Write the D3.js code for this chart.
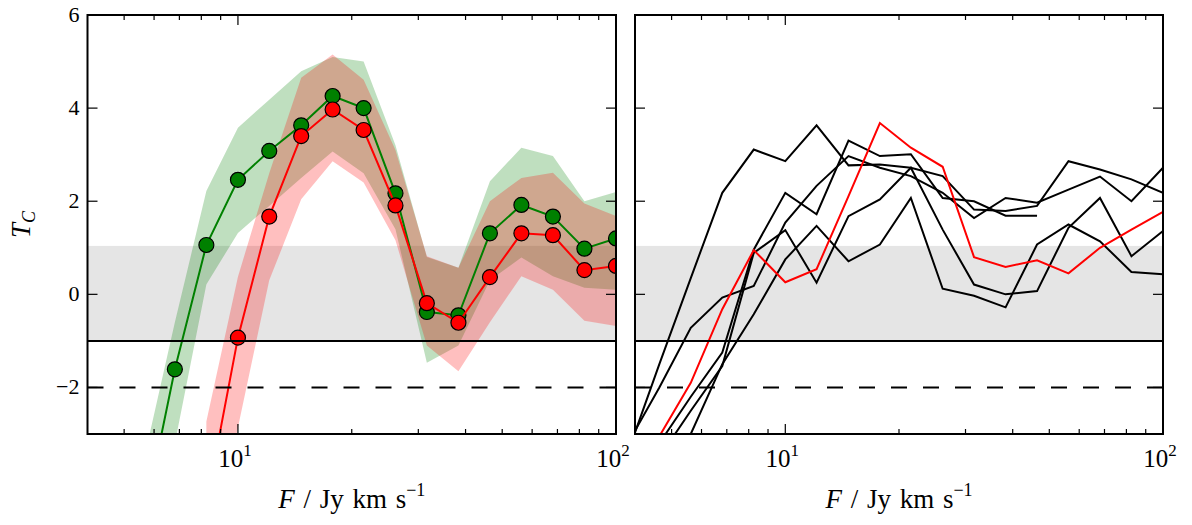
<!DOCTYPE html>
<html>
<head>
<meta charset="utf-8">
<script src="https://cdn.jsdelivr.net/npm/d3@7"></script>
<style>
  html, body { margin: 0; padding: 0; background: #fff; }
  svg { display: block; }
</style>
</head>
<body>
<svg id="chart" width="1192" height="525"></svg>
<script>
// Flux bins (Jy km/s) used by both panels
const fluxBins = [3.83, 4.64, 5.62, 6.81, 8.25, 10.0, 12.1, 14.7, 17.8, 21.5,
                  26.1, 31.6, 38.3, 46.4, 56.2, 68.1, 82.5, 100];

// Left panel: two averaged profiles with their spread
const greenTc = [null, null, -4.9, -1.61, 1.06, 2.46, 3.08, 3.63, 4.26, 4.00,
                 2.17, -0.38, -0.45, 1.31, 1.92, 1.67, 0.98, 1.20];
const greenLo = [null, null, -6.5, -3.2, 0.21, 1.32, 1.90, 2.50, 3.07, 2.60,
                 1.40, -1.47, -1.10, 0.30, 0.79, 0.39, 0.14, 0.10];
const greenHi = [null, null, -3.6, -0.6, 2.22, 3.58, 4.18, 4.79, 5.10, 5.00,
                 3.20, 0.80, 0.57, 2.43, 3.15, 2.97, 2.00, 2.20];

const redTc = [null, null, null, null, -4.5, -0.93, 1.67, 3.40, 3.97, 3.53,
               1.91, -0.19, -0.61, 0.37, 1.31, 1.27, 0.52, 0.61];
const redLo = [null, null, null, null, -6.0, -2.86, 0.30, 2.04, 2.86, 2.40,
               1.16, -1.10, -1.65, -0.60, 0.39, 0.10, -0.57, -0.68];
const redHi = [null, null, null, null, -2.73, 0.38, 2.60, 4.65, 5.15, 4.61,
               3.10, 0.82, 0.57, 2.00, 2.50, 2.61, 1.95, 1.68];

// Right panel: individual profiles
const profilesBlack = [
  [-3.4, -1.5, 0.35, 2.18, 3.11, 2.86, 3.63, 2.77, 2.79, 2.72, 2.54, 1.82, 1.79, 1.90, 2.86, 2.68, 2.47, 2.18],
  [-3.2, -2.0, -0.72, -0.07, 0.18, 1.54, 2.33, 2.97, 2.72, 2.54, 2.18, 1.64, 2.07, 1.97, 2.25, 2.53, 2.00, 2.72],
  [null, -3.2, -2.2, -1.25, 0.96, 2.18, 1.72, 3.30, 2.97, 3.01, 2.07, 2.00, 1.69, 1.69, null, null, null, null],
  [null, -3.5, -2.5, -1.54, 0.89, 1.38, 0.25, 1.68, 2.04, 2.72, 1.39, 0.21, 0.00, 0.07, 1.43, 2.07, 0.82, 1.36],
  [null, null, -3.0, -1.5, -0.43, 0.75, 1.47, 0.71, 1.07, 2.07, 0.12, -0.03, -0.28, 1.07, 1.50, 1.14, 0.48, 0.43]
];
const profileRed = [null, -3.05, -1.9, -0.32, 0.95, 0.26, 0.54, 2.11, 3.68, 3.15,
                    2.74, 0.80, 0.59, 0.73, 0.45, 1.00, 1.39, 1.77];

// Reference levels
const bandLo = -1, bandHi = 1.04, solidLevel = -1, dashLevel = -2;
const yTicks = [-2, 0, 2, 4, 6];
const xMajor = [10, 100];
const xMinor = [5, 6, 7, 8, 9, 20, 30, 40, 50, 60, 70, 80, 90];

const serif = "'Liberation Serif', 'Times New Roman', 'DejaVu Serif', serif";

const svg = d3.select("#chart").attr("font-family", serif);
const plotTop = 15, plotBottom = 434;
const panels = [
  { left: 87.5, right: 616, id: "L", yLabels: true },
  { left: 635, right: 1163, id: "R", yLabels: false }
];

const y = d3.scaleLinear().domain([-3, 6]).range([plotBottom, plotTop]);

panels.forEach(p => {
  const x = d3.scaleLog().domain([4, 100]).range([p.left, p.right]);
  p.x = x;
  const g = svg.append("g");
  const clipId = "clip" + p.id;
  svg.append("clipPath").attr("id", clipId)
    .append("rect").attr("x", p.left).attr("y", plotTop)
    .attr("width", p.right - p.left).attr("height", plotBottom - plotTop);
  const body = g.append("g").attr("clip-path", `url(#${clipId})`);

  // grey band
  body.append("rect")
    .attr("x", p.left).attr("width", p.right - p.left)
    .attr("y", y(bandHi)).attr("height", y(bandLo) - y(bandHi))
    .attr("fill", "#e5e5e5");

  p.body = body;
  p.g = g;
});

// ---- Left panel content ----
(function () {
  const p = panels[0], x = p.x, b = p.body;
  const idx = d3.range(fluxBins.length);
  const area = (lo, hi) => d3.area()
    .defined(i => lo[i] != null)
    .x(i => x(fluxBins[i])).y0(i => y(lo[i])).y1(i => y(hi[i]));
  const line = vals => d3.line()
    .defined(i => vals[i] != null)
    .x(i => x(fluxBins[i])).y(i => y(vals[i]));

  b.append("path").attr("d", area(greenLo, greenHi)(idx))
    .attr("fill", "green").attr("fill-opacity", 0.25);
  b.append("path").attr("d", area(redLo, redHi)(idx))
    .attr("fill", "red").attr("fill-opacity", 0.25);

  [[greenTc, "#008000"], [redTc, "#ff0000"]].forEach(([vals, col]) => {
    b.append("path").attr("d", line(vals)(idx))
      .attr("fill", "none").attr("stroke", col).attr("stroke-width", 2);
    b.selectAll(null).data(idx.filter(i => vals[i] != null)).enter()
      .append("circle")
      .attr("cx", i => x(fluxBins[i])).attr("cy", i => y(vals[i]))
      .attr("r", 7.5).attr("fill", col)
      .attr("stroke", "#000").attr("stroke-width", 1.2);
  });
})();

// ---- Right panel content ----
(function () {
  const p = panels[1], x = p.x, b = p.body;
  const idx = d3.range(fluxBins.length);
  const line = vals => d3.line()
    .defined(i => vals[i] != null)
    .x(i => x(fluxBins[i])).y(i => y(vals[i]));
  profilesBlack.forEach(vals => {
    b.append("path").attr("d", line(vals)(idx))
      .attr("fill", "none").attr("stroke", "#000").attr("stroke-width", 2)
      .attr("stroke-linejoin", "miter");
  });
  b.append("path").attr("d", line(profileRed)(idx))
    .attr("fill", "none").attr("stroke", "#ff0000").attr("stroke-width", 2);
})();

// ---- reference lines, frames, ticks, labels ----
panels.forEach(p => {
  const x = p.x, b = p.body, g = p.g;
  b.append("line").attr("x1", p.left).attr("x2", p.right)
    .attr("y1", y(solidLevel)).attr("y2", y(solidLevel))
    .attr("stroke", "#000").attr("stroke-width", 2);
  b.append("line").attr("x1", p.left).attr("x2", p.right)
    .attr("y1", y(dashLevel)).attr("y2", y(dashLevel))
    .attr("stroke", "#000").attr("stroke-width", 2)
    .attr("stroke-dasharray", "16,16");

  // ticks (inward, all four sides)
  const tk = g.append("g").attr("stroke", "#000").attr("stroke-width", 1.2);
  xMajor.concat(xMinor).forEach(v => {
    const len = xMajor.includes(v) ? 10 : 5;
    const xx = x(v);
    tk.append("line").attr("x1", xx).attr("x2", xx).attr("y1", plotBottom).attr("y2", plotBottom - len);
    tk.append("line").attr("x1", xx).attr("x2", xx).attr("y1", plotTop).attr("y2", plotTop + len);
  });
  yTicks.forEach(v => {
    const yy = y(v);
    tk.append("line").attr("x1", p.left).attr("x2", p.left + 10).attr("y1", yy).attr("y2", yy);
    tk.append("line").attr("x1", p.right).attr("x2", p.right - 10).attr("y1", yy).attr("y2", yy);
  });

  g.append("rect").attr("x", p.left).attr("y", plotTop)
    .attr("width", p.right - p.left).attr("height", plotBottom - plotTop)
    .attr("fill", "none").attr("stroke", "#000").attr("stroke-width", 2);

  // x tick labels 10^n
  xMajor.forEach(v => {
    const t = g.append("text").attr("x", x(v) - 3).attr("y", 467)
      .attr("font-family", serif)
      .attr("text-anchor", "middle").attr("font-size", 25);
    t.append("tspan").text("10");
    t.append("tspan").attr("font-size", 17).attr("dy", -11).text(String(Math.round(Math.log10(v))));
  });

  // x axis label
  const xl = g.append("text").attr("x", (p.left + p.right) / 2).attr("y", 508)
    .attr("font-family", serif)
    .attr("text-anchor", "middle").attr("font-size", 27)
    .attr("word-spacing", 2);
  xl.append("tspan").attr("font-style", "italic").text("F");
  xl.append("tspan").text(" / Jy km s");
  xl.append("tspan").attr("font-size", 18).attr("dy", -12).text("\u22121");

  if (p.yLabels) {
    yTicks.forEach(v => {
      g.append("text").attr("x", p.left - 8).attr("y", y(v) + 7)
        .attr("font-family", serif)
        .attr("text-anchor", "end").attr("font-size", 22)
        .text(v < 0 ? "\u2212" + Math.abs(v) : String(v));
    });
    const yl = g.append("text")
      .attr("transform", `translate(30, ${(plotTop + plotBottom) / 2}) rotate(-90)`)
      .attr("font-family", serif)
      .attr("text-anchor", "middle").attr("font-size", 27);
    yl.append("tspan").attr("font-style", "italic").text("T");
    yl.append("tspan").attr("font-style", "italic").attr("font-size", 18).attr("dy", 5).text("C");
  }
});
</script>
</body>
</html>
